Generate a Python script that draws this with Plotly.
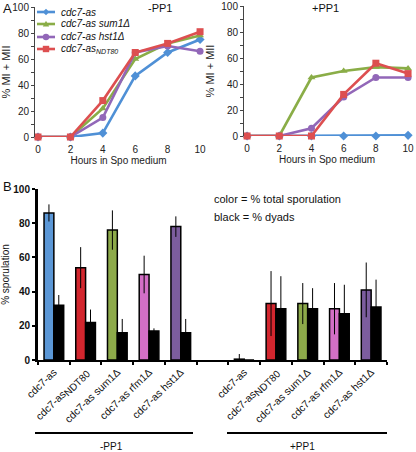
import plotly.graph_objects as go

W, H = 416, 452
def fx(x): return x / W
def fy(y): return 1 - y / H

# ---------------- Data ----------------
hours = [0, 2, 4, 6, 8, 10]
strain_names = ["cdc7-as", "cdc7-as sum1Δ", "cdc7-as hst1Δ", "cdc7-as<sub>NDT80</sub>"]
line_colors = ["#4f90d6", "#8aad47", "#9267b8", "#dd4f50"]
line_symbols = ["diamond", "triangle-up", "circle", "square"]

minus_pp1 = {
    "cdc7-as":        [0, 0, 3, 47, 65, 75],
    "sum1":           [0, 0, 22, 60, 72, 78],
    "hst1":           [0, 0, 15, 65, 70, 66],
    "NDT80":          [0, 0, 28, 65, 72, 81],
}
plus_pp1 = {
    "cdc7-as":        [0, 0, 0, 0, 0, 0.5],
    "sum1":           [0, 0, 45, 50, 53, 52],
    "hst1":           [0, 0, 6, 30, 45, 45],
    "NDT80":          [0, 0, 0, 32, 56, 48],
}

bar_labels = ["cdc7-as", "cdc7-as<sub><span style='font-size:10px'>NDT80</span></sub>",
              "cdc7-as sum1Δ", "cdc7-as rfm1Δ", "cdc7-as hst1Δ"]
bar_colors = ["#5b97d6", "#d3262e", "#8daa4a", "#d36fc6", "#7c5d9e"]
# total sporulation (colored) and dyads (black)
spor_minus = [86, 54, 76, 50, 78]
spor_minus_err = [5, 12, 11.5, 11, 6]
dyad_minus = [32, 22, 16, 17, 16]
dyad_minus_err = [6, 7.5, 8, 1.5, 8]
spor_plus = [0.5, 33, 33, 30, 41]
spor_plus_err = [3, 19, 12, 15, 16]
dyad_plus = [0, 30, 30, 27, 31]
dyad_plus_err = [0, 19, 12, 17, 16]
group_pos_minus = [0.5, 1.5, 2.5, 3.5, 4.5]
group_pos_plus = [6.5, 7.5, 8.5, 9.5, 10.5]

FONT = "Liberation Sans, Arial, sans-serif"
fig = go.Figure()

keys = ["cdc7-as", "sum1", "hst1", "NDT80"]
for panel, data, xa, ya in [(0, minus_pp1, "x", "y"), (1, plus_pp1, "x2", "y2")]:
    for k, c, s in zip(keys, line_colors, line_symbols):
        fig.add_trace(go.Scatter(
            x=hours, y=data[k], mode="lines+markers", xaxis=xa, yaxis=ya,
            line=dict(color=c, width=2.6),
            marker=dict(color=c, symbol=s, size=7),
            showlegend=False, cliponaxis=False))

# Panel B bars
cat_x = group_pos_minus + group_pos_plus
colored = spor_minus + spor_plus
colored_err = spor_minus_err + spor_plus_err
black = dyad_minus + dyad_plus
black_err = dyad_minus_err + dyad_plus_err
fig.add_trace(go.Bar(
    x=cat_x, y=colored, xaxis="x3", yaxis="y3", offsetgroup="a",
    marker=dict(color=bar_colors * 2, line=dict(color="black", width=1.5)),
    error_y=dict(type="data", array=colored_err, color="black", thickness=1, width=0),
    showlegend=False))
fig.add_trace(go.Bar(
    x=cat_x, y=black, xaxis="x3", yaxis="y3", offsetgroup="b",
    marker=dict(color="black", line=dict(color="black", width=1.5)),
    error_y=dict(type="data", array=black_err, color="black", thickness=1, width=0),
    showlegend=False))

axis_common_y = dict(range=[0, 100], tickvals=[0, 20, 40, 60, 80, 100], ticks="outside",
                     ticklen=3, tickcolor="#444", showline=True, linecolor="#444", linewidth=1,
                     showgrid=False, zeroline=False, tickfont=dict(size=10, color="#222"),
                     automargin=False,
                     minor=dict(tickvals=[10, 30, 50, 70, 90], ticks="outside", ticklen=3, tickcolor="#444"),
                     title=dict(text="% MI + MII", font=dict(size=11, color="#222"), standoff=4))
axis_common_x = dict(tickvals=hours, showline=False, showgrid=False, zeroline=False,
                     ticks="outside", ticklen=3, tickcolor="rgba(0,0,0,0)", automargin=False,
                     tickfont=dict(size=10, color="#222"),
                     title=dict(text="Hours in Spo medium", font=dict(size=10, color="#222"), standoff=2))

fig.update_layout(
    width=W, height=H, margin=dict(l=0, r=0, t=0, b=0, autoexpand=False),
    paper_bgcolor="white", plot_bgcolor="white",
    font=dict(family=FONT, color="#222"),
    barmode="group", bargap=0.38, bargroupgap=0,
    xaxis=dict(domain=[fx(35), fx(202)], range=[-0.185, 10.12], anchor="y", **axis_common_x),
    yaxis=dict(domain=[fy(137), fy(7)], anchor="x", **axis_common_y),
    xaxis2=dict(domain=[fx(244), fx(410)], range=[-0.19, 10.12], anchor="y2", **axis_common_x),
    yaxis2=dict(domain=[fy(136), fy(6)], anchor="x2", **axis_common_y),
    xaxis3=dict(domain=[fx(38), fx(387)], range=[0, 11], anchor="y3", automargin=False,
                tickvals=cat_x, ticktext=bar_labels * 2, tickangle=-44, ticks="",
                tickfont=dict(size=10.5, color="#111"),
                showline=True, linecolor="black", linewidth=2, showgrid=False, zeroline=False,
                minor=dict(tickvals=list(range(0, 12)), ticks="outside", ticklen=3,
                           tickcolor="black", tickwidth=2)),
    yaxis3=dict(domain=[fy(360), fy(189)], range=[0, 100], anchor="x3", automargin=False,
                tickvals=[0, 20, 40, 60, 80, 100], ticks="outside", ticklen=3, tickwidth=2,
                tickcolor="black", showline=True, linecolor="black", linewidth=3,
                showgrid=False, zeroline=False,
                tickfont=dict(size=10, color="#111", family="Liberation Sans, Arial", weight="bold"),
                title=dict(text="% sporulation", font=dict(size=10, color="#111"), standoff=8)),
)

ann = []
def text(x, y, t, size=10, xanchor="left", **kw):
    ann.append(dict(x=fx(x), y=fy(y), xref="paper", yref="paper", text=t, showarrow=False,
                    xanchor=xanchor, yanchor="middle", font=dict(size=size, color="#111", family=FONT), **kw))

text(1, 9, "A", size=13)
text(1, 186, "B", size=13)
text(160, 8, "-PP1", size=11, xanchor="center")
text(325, 8, "+PP1", size=11, xanchor="center")
text(212, 199, "color = % total sporulation", size=11)
text(212, 217, "black = % dyads", size=11)
text(111, 446, "-PP1", size=10, xanchor="center")
text(302, 446, "+PP1", size=10, xanchor="center")

shapes = [
    dict(type="line", xref="paper", yref="paper", x0=fx(35), x1=fx(193), y0=fy(433), y1=fy(433),
         line=dict(color="black", width=2)),
    dict(type="line", xref="paper", yref="paper", x0=fx(227), x1=fx(387), y0=fy(433), y1=fy(433),
         line=dict(color="black", width=2)),
]

# legend for panel A (manual, compact rows)
legend_rows = [12, 24, 37, 49]
for name, c, s, ry in zip(strain_names, line_colors, line_symbols, legend_rows):
    shapes.append(dict(type="line", xref="paper", yref="paper", x0=fx(37), x1=fx(55),
                       y0=fy(ry), y1=fy(ry), line=dict(color=c, width=2.6)))
    cx, cy, r = 46, ry, 3.2
    if s == "circle":
        shapes.append(dict(type="circle", xref="paper", yref="paper", x0=fx(cx - r), x1=fx(cx + r),
                           y0=fy(cy + r), y1=fy(cy - r), fillcolor=c, line=dict(width=0)))
    elif s == "square":
        shapes.append(dict(type="rect", xref="paper", yref="paper", x0=fx(cx - r), x1=fx(cx + r),
                           y0=fy(cy + r), y1=fy(cy - r), fillcolor=c, line=dict(width=0)))
    elif s == "diamond":
        p = f"M {fx(cx-r)} {fy(cy)} L {fx(cx)} {fy(cy-r)} L {fx(cx+r)} {fy(cy)} L {fx(cx)} {fy(cy+r)} Z"
        shapes.append(dict(type="path", xref="paper", yref="paper", path=p, fillcolor=c, line=dict(width=0)))
    else:
        p = f"M {fx(cx-r)} {fy(cy+r*0.8)} L {fx(cx)} {fy(cy-r)} L {fx(cx+r)} {fy(cy+r*0.8)} Z"
        shapes.append(dict(type="path", xref="paper", yref="paper", path=p, fillcolor=c, line=dict(width=0)))
    text(59, ry, "<i>" + name + "</i>", size=10)

fig.update_layout(annotations=ann, shapes=shapes)
fig.write_html("out.html", config={"displayModeBar": False},
               post_script="document.body.style.margin='0';document.body.style.overflow='hidden';")
